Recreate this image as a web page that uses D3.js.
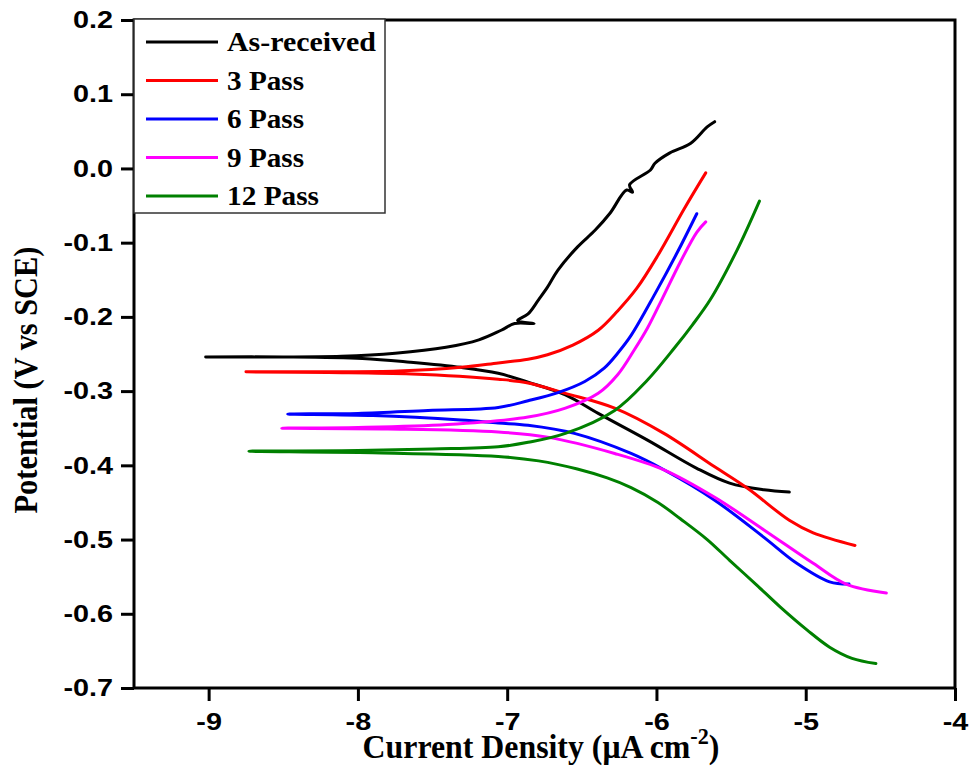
<!DOCTYPE html>
<html>
<head>
<meta charset="utf-8">
<script src="https://cdn.jsdelivr.net/npm/d3@7"></script>
<style>
  body { margin: 0; background: #fff; }
  svg { display: block; }
</style>
</head>
<body>
<div id="chart"></div>
<script>
'use strict';

// legend / series
const seriesNames = ['As-received', '3 Pass', '6 Pass', '9 Pass', '12 Pass'];
const seriesColors = ['#000000', '#ff0000', '#0000ff', '#ff00ff', '#008000'];

// axis ticks
const xTicks = [-9, -8, -7, -6, -5, -4];
const yTicks = [0.2, 0.1, 0.0, -0.1, -0.2, -0.3, -0.4, -0.5, -0.6, -0.7];

// [log current density, potential] -- cathodic end -> Ecorr -> anodic end
const asReceived = [
  [-5.11, -0.436], [-5.28, -0.433], [-5.51, -0.424], [-5.73, -0.404], [-6.06, -0.366],
  [-6.39, -0.330], [-6.61, -0.305], [-6.86, -0.288], [-7.06, -0.276], [-7.31, -0.268],
  [-7.65, -0.261], [-7.97, -0.256], [-8.5, -0.254], [-9.02, -0.254],
  [-8.6, -0.254], [-8.11, -0.253], [-7.75, -0.249], [-7.41, -0.241], [-7.19, -0.231],
  [-7.04, -0.218], [-6.95, -0.209], [-6.82, -0.209], [-6.93, -0.205], [-6.86, -0.196],
  [-6.79, -0.177], [-6.73, -0.160], [-6.66, -0.137], [-6.53, -0.106], [-6.41, -0.083],
  [-6.31, -0.060], [-6.2, -0.029], [-6.16, -0.032], [-6.18, -0.022], [-6.04, -0.002],
  [-6.01, 0.007], [-5.91, 0.021], [-5.77, 0.034], [-5.66, 0.056], [-5.61, 0.063]
];
const pass3 = [
  [-4.67, -0.508], [-4.95, -0.491], [-5.11, -0.474], [-5.39, -0.431], [-5.61, -0.402],
  [-5.95, -0.357], [-6.28, -0.323], [-6.61, -0.303], [-6.86, -0.289], [-7.06, -0.284],
  [-7.64, -0.277], [-8.2, -0.275], [-8.75, -0.274],
  [-8.2, -0.274], [-7.73, -0.273], [-7.31, -0.268], [-7.06, -0.262], [-6.86, -0.257],
  [-6.73, -0.251], [-6.56, -0.238], [-6.39, -0.218], [-6.26, -0.192], [-6.13, -0.161],
  [-5.99, -0.117], [-5.81, -0.053], [-5.67, -0.006]
];
const pass6 = [
  [-4.71, -0.560], [-4.84, -0.557], [-5.06, -0.532], [-5.28, -0.497], [-5.61, -0.447],
  [-5.95, -0.406], [-6.17, -0.384], [-6.55, -0.357], [-6.86, -0.346], [-7.06, -0.343],
  [-7.31, -0.339], [-7.9, -0.333], [-8.47, -0.331],
  [-8.0, -0.330], [-7.53, -0.326], [-7.06, -0.322], [-6.86, -0.313], [-6.66, -0.302],
  [-6.48, -0.287], [-6.35, -0.269], [-6.26, -0.249], [-6.17, -0.225], [-6.01, -0.169],
  [-5.86, -0.113], [-5.73, -0.061]
];
const pass9 = [
  [-4.46, -0.572], [-4.73, -0.560], [-4.95, -0.532], [-5.28, -0.487], [-5.61, -0.443],
  [-5.95, -0.406], [-6.28, -0.384], [-6.73, -0.362], [-7.06, -0.355], [-7.8, -0.351],
  [-8.51, -0.350],
  [-8.0, -0.349], [-7.4, -0.345], [-6.86, -0.335], [-6.61, -0.323], [-6.39, -0.303],
  [-6.26, -0.278], [-6.15, -0.245], [-6.06, -0.215], [-5.96, -0.175], [-5.84, -0.126],
  [-5.73, -0.086], [-5.67, -0.072]
];
const pass12 = [
  [-4.53, -0.667], [-4.69, -0.660], [-4.84, -0.645], [-4.99, -0.622], [-5.17, -0.591],
  [-5.33, -0.561], [-5.51, -0.528], [-5.66, -0.500], [-5.84, -0.472], [-5.99, -0.450],
  [-6.17, -0.430], [-6.33, -0.417], [-6.53, -0.405], [-6.79, -0.394], [-7.06, -0.388],
  [-7.9, -0.383], [-8.73, -0.381],
  [-8.0, -0.380], [-7.5, -0.378], [-7.06, -0.375], [-6.86, -0.369], [-6.61, -0.357],
  [-6.28, -0.326], [-6.06, -0.285], [-5.88, -0.242], [-5.76, -0.211], [-5.64, -0.177],
  [-5.46, -0.110], [-5.31, -0.044]
];

const seriesData = [asReceived, pass3, pass6, pass9, pass12];

const width = 972, height = 766;

const svg = d3.select('#chart').append('svg')
    .attr('width', width)
    .attr('height', height)
    .style('background', '#fff');

const x = d3.scaleLinear().domain([-9.5, -4]).range([134, 955]);
const y = d3.scaleLinear().domain([-0.7, 0.2]).range([688, 20]);

const sansBold = '"Liberation Sans", Arial, sans-serif';
const serifBold = '"Liberation Serif", "Times New Roman", serif';

// stretch a plain text element horizontally (the source fonts are wide)
function stretch(sel, k) {
  sel.each(function() {
    const w = this.getComputedTextLength();
    d3.select(this)
        .attr('textLength', w * k)
        .attr('lengthAdjust', 'spacingAndGlyphs');
  });
}

// squeeze a group so its text fits a target width
function fitGroup(g, target) {
  const box = g.node().getBBox();
  const k = target / box.width;
  g.attr('transform', g.attr('transform') + ` scale(${k},1)`);
}

// x axis
const xAxis = svg.append('g')
    .attr('transform', 'translate(0,688)')
    .call(d3.axisBottom(x).tickValues(xTicks).tickSize(13).tickPadding(12)
      .tickFormat(d => String(d)));
xAxis.select('.domain').remove();
xAxis.selectAll('.tick line').attr('stroke', '#000').attr('stroke-width', 3);
xAxis.selectAll('.tick text')
    .attr('fill', '#000')
    .style('font-family', sansBold)
    .style('font-weight', 'bold')
    .style('font-size', '24px')
    .call(stretch, 1.2);

// y axis
const yAxis = svg.append('g')
    .attr('transform', 'translate(134,0)')
    .call(d3.axisLeft(y).tickValues(yTicks).tickSize(13).tickPadding(8)
      .tickFormat(d => d.toFixed(1)));
yAxis.select('.domain').remove();
yAxis.selectAll('.tick line').attr('stroke', '#000').attr('stroke-width', 3);
yAxis.selectAll('.tick text')
    .attr('fill', '#000')
    .style('font-family', sansBold)
    .style('font-weight', 'bold')
    .style('font-size', '24px')
    .call(stretch, 1.2);

// frame
svg.append('rect')
    .attr('x', x(-9.5))
    .attr('y', y(0.2))
    .attr('width', x(-4) - x(-9.5))
    .attr('height', y(-0.7) - y(0.2))
    .attr('fill', 'none')
    .attr('stroke', '#000')
    .attr('stroke-width', 3);

// curves
const line = d3.line()
    .x(d => x(d[0]))
    .y(d => y(d[1]))
    .curve(d3.curveCatmullRom.alpha(0.5));

svg.selectAll('.curve')
    .data(seriesData)
  .enter().append('path')
    .attr('class', 'curve')
    .attr('d', line)
    .attr('fill', 'none')
    .attr('stroke', (d, i) => seriesColors[i])
    .attr('stroke-width', 3)
    .attr('stroke-linejoin', 'round')
    .attr('stroke-linecap', 'round');

// legend
const legend = svg.append('g').attr('class', 'legend');
legend.append('rect')
    .attr('x', 134)
    .attr('y', 19)
    .attr('width', 251)
    .attr('height', 194)
    .attr('fill', '#fff')
    .attr('stroke', '#333')
    .attr('stroke-width', 1.5);

const rows = legend.selectAll('.row')
    .data(seriesNames)
  .enter().append('g')
    .attr('class', 'row')
    .attr('transform', (d, i) => `translate(0,${42 + i * 38.5})`);

rows.append('line')
    .attr('x1', 146).attr('x2', 218)
    .attr('stroke', (d, i) => seriesColors[i])
    .attr('stroke-width', 3);

const legendWidths = [149, 77, 77, 77, 92];
rows.append('text')
    .attr('x', 227)
    .attr('y', 9)
    .attr('fill', '#000')
    .style('font-family', serifBold)
    .style('font-weight', 'bold')
    .style('font-size', '27px')
    .text(d => d)
    .attr('textLength', (d, i) => legendWidths[i])
    .attr('lengthAdjust', 'spacingAndGlyphs');

// x title
const xTitle = svg.append('g').attr('transform', 'translate(541,758)');
const xt = xTitle.append('text')
    .attr('text-anchor', 'middle')
    .attr('fill', '#000')
    .style('font-family', serifBold)
    .style('font-weight', 'bold')
    .style('font-size', '33px');
xt.append('tspan').text('Current Density (\u03bcA cm');
xt.append('tspan').attr('dy', -14).style('font-size', '23px').text('-2');
xt.append('tspan').attr('dy', 14).text(')');
fitGroup(xTitle, 357);

// y title
const yTitle = svg.append('g').attr('transform', 'translate(37,380) rotate(-90)');
yTitle.append('text')
    .attr('text-anchor', 'middle')
    .attr('fill', '#000')
    .style('font-family', serifBold)
    .style('font-weight', 'bold')
    .style('font-size', '33px')
    .text('Potential (V vs SCE)');
fitGroup(yTitle, 267);
</script>
</body>
</html>
